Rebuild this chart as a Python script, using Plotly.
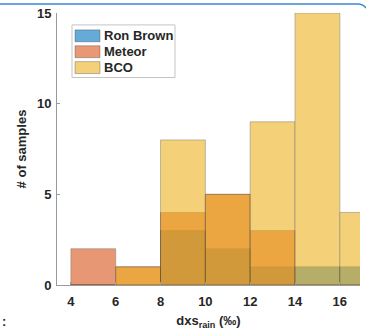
import plotly.graph_objects as go

bin_edges = [4, 6, 8, 10, 12, 14, 16, 18]
ron_brown = [0, 0, 3, 2, 1, 1, 1]
meteor = [2, 1, 4, 5, 3, 0, 0]
bco = [0, 1, 8, 5, 9, 15, 4]

names = ["Ron Brown", "Meteor", "BCO"]
colors = [(0, 114, 189), (217, 83, 25), (237, 177, 32)]
series = [ron_brown, meteor, bco]

centers = [(a + b) / 2 for a, b in zip(bin_edges[:-1], bin_edges[1:])]
widths = [b - a for a, b in zip(bin_edges[:-1], bin_edges[1:])]

W, H = 366, 335
ML, MR, MT, MB = 57, 6, 11, 50
PW, PH = W - ML - MR, H - MT - MB


def px(x):
    return (x - ML) / PW


def py(y):
    return (H - MB - y) / PH


fig = go.Figure()
for name, vals, col in zip(names, series, colors):
    fig.add_trace(go.Bar(x=centers, y=vals, width=widths, name=name,
                         marker=dict(color="rgb(%d,%d,%d)" % col,
                                     line=dict(color="rgba(50,40,30,0.5)", width=1)),
                         opacity=0.6, showlegend=False))

font_bold = dict(family="Liberation Sans, Arial, sans-serif", size=13, color="#262626", weight="bold")

fig.update_layout(
    width=W, height=H,
    margin=dict(l=ML, r=MR, t=MT, b=MB),
    barmode="overlay",
    plot_bgcolor="white", paper_bgcolor="white",
    font=font_bold,
    xaxis=dict(range=[3.38, 16.9], tickvals=[4, 6, 8, 10, 12, 14, 16],
               showline=True, linecolor="#9a9a9a", linewidth=1,
               ticks="inside", ticklen=3, tickcolor="#9a9a9a",
               showgrid=False, zeroline=False, ticklabelstandoff=4,
               title=dict(text="dxs<sub>rain</sub> (‰)", font=font_bold, standoff=8),
               tickfont=font_bold),
    yaxis=dict(range=[0, 15], tickvals=[0, 5, 10, 15],
               showline=True, linecolor="#9a9a9a", linewidth=1,
               ticks="inside", ticklen=3, tickcolor="#9a9a9a",
               showgrid=False, zeroline=False, ticklabelstandoff=2,
               title=dict(text="# of samples", font=font_bold, standoff=7),
               tickfont=font_bold),
)

# manual legend (MATLAB style wide patches)
fig.add_shape(type="rect", xref="paper", yref="paper",
              x0=px(72), x1=px(175), y0=py(76), y1=py(23),
              fillcolor="white", line=dict(color="#c4c4c4", width=1), layer="above")
row_centers = [34, 50, 66]
for name, col, yc in zip(names, colors, row_centers):
    fill = "rgb(%d,%d,%d)" % tuple(round(0.6 * c + 0.4 * 255) for c in col)
    fig.add_shape(type="rect", xref="paper", yref="paper",
                  x0=px(75), x1=px(100), y0=py(yc + 6), y1=py(yc - 6),
                  fillcolor=fill, line=dict(color="rgba(60,60,60,0.35)", width=1), layer="above")
    fig.add_annotation(x=px(102), y=py(yc), xref="paper", yref="paper", text=name,
                       showarrow=False, xanchor="left", yanchor="middle", font=font_bold)

# blue card border at top
fig.add_shape(type="path", xref="paper", yref="paper",
              path="M %f %f L %f %f Q %f %f %f %f" % (px(0), py(2), px(358), py(2),
                                                      px(363), py(2), px(366), py(6)),
              line=dict(color="#3a86d8", width=1.5))
fig.add_annotation(x=px(0), y=py(322), xref="paper", yref="paper", text=":",
                   showarrow=False, xanchor="left", yanchor="middle", font=font_bold)

fig.write_html("out.html")
